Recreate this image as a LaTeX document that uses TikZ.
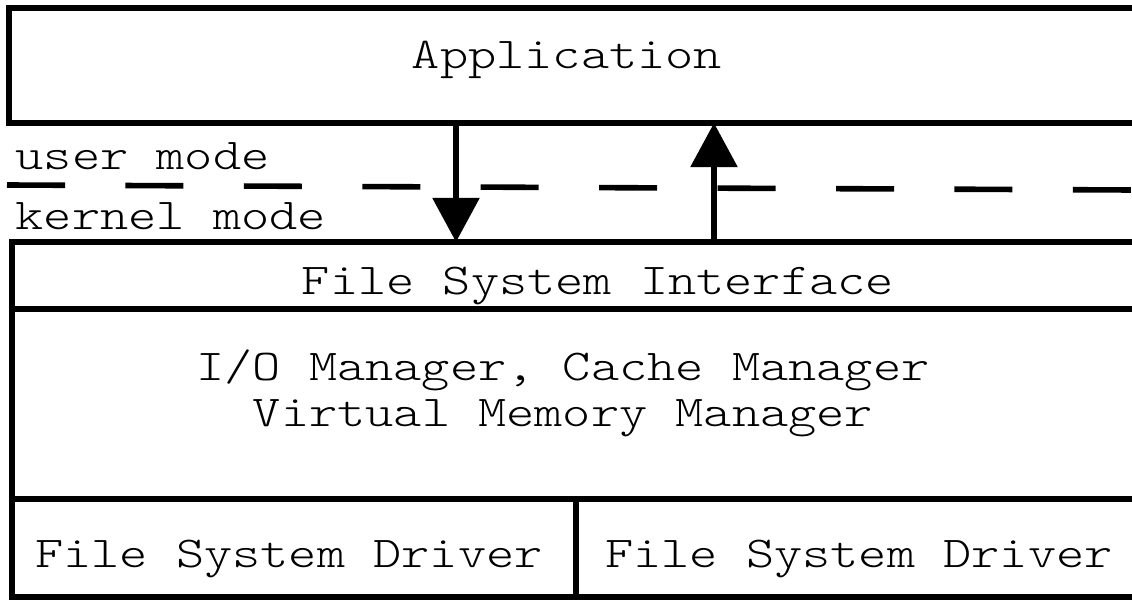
\documentclass[tikz,border=0pt]{standalone}
\usepackage{fontspec}
\setmonofont[FakeStretch=1.22]{Latin Modern Mono Light}
\usetikzlibrary{arrows.meta, positioning}

\begin{document}
\begin{tikzpicture}[x=0.025cm, y=-0.025cm, line width=0.14cm,
                    layer/.style= {rectangle,
                      draw,
                      outer sep=0pt,
                      inner sep=0pt},
                    txt/.style= {font=\ttfamily\fontsize{31.3}{38}\selectfont,
                      inner sep=0pt,
                      anchor=base},
                    modeline/.style= {dash pattern=on 1.45cm off 1.51cm},
                    call/.style= {-{Triangle[width=1.15cm, length=1.1cm]}}]

  \useasboundingbox (0,0) rectangle (1132,602);
  \clip (0,0) rectangle (1132,602);

  % layers
  \node[layer, minimum width=28.525cm, minimum height=2.875cm] (app) at (579.5,65.5) {};
  \node[layer, minimum width=28.45cm, minimum height=1.675cm] (fsi) at (581,275.5) {};
  \node[layer, minimum width=28.45cm, minimum height=4.75cm] (mgr) at (581,404) {};
  \node[layer, minimum width=14.1cm, minimum height=2.45cm] (drvl) at (294,548) {};
  \node[layer, minimum width=14.35cm, minimum height=2.45cm] (drvr) at (863,548) {};

  % texts
  \node[txt] (apptext) at (567,69) {Application};
  \node[txt] (fsitext) at (598,295) {File System Interface};
  \node[txt] (mgrtext) at (563,381) {I/O Manager, Cache Manager};
  \node[txt] (vmmtext) at (563,427) {Virtual Memory Manager};
  \node[txt] (drvltext) at (289,567) {File System Driver};
  \node[txt] (drvrtext) at (859,567) {File System Driver};
  \node[txt, anchor=base west] (user) at (13,170) {user mode};
  \node[txt, anchor=base west] (kernel) at (13,230) {kernel mode};

  % boundary
  \coordinate (bl) at (7,185);
  \coordinate (br) at (1132,190);
  \draw[modeline] (bl) -- (br);

  % calls
  \coordinate (dnx) at (456,0);
  \coordinate (upx) at (714,0);
  \draw[call] (app.south -| dnx) -- (fsi.north -| dnx);
  \draw[call] (fsi.north -| upx) -- (app.south -| upx);
\end{tikzpicture}
\end{document}
